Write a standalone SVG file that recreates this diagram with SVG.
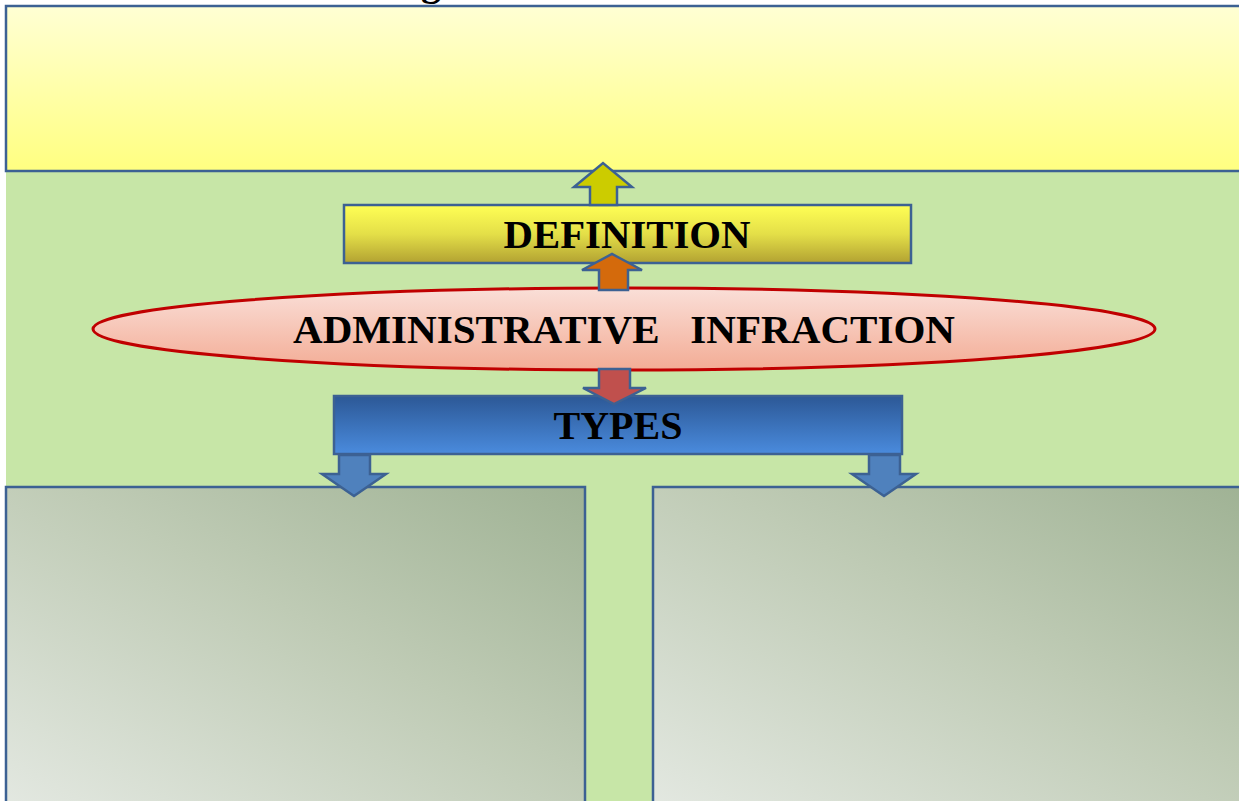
<svg xmlns="http://www.w3.org/2000/svg" width="1239" height="801" viewBox="0 0 1239 801">
  <style>
    .box { stroke: #3C6193; stroke-width: 2.5; }
    .arrow { stroke: #3C6193; stroke-width: 2.5; stroke-linejoin: miter; }
    .label { font-family: "Liberation Serif", "Times New Roman", serif; font-weight: bold; font-size: 40px; fill: #000; text-anchor: middle; }
  </style>
  <defs>
    <linearGradient id="gTop" x1="0" y1="0" x2="0" y2="1">
      <stop offset="0" stop-color="#FFFFD4"/>
      <stop offset="1" stop-color="#FFFF80"/>
    </linearGradient>
    <linearGradient id="gDef" x1="0" y1="0" x2="0" y2="1">
      <stop offset="0" stop-color="#FFFF55"/>
      <stop offset="0.5" stop-color="#E4DF48"/>
      <stop offset="1" stop-color="#B2A232"/>
    </linearGradient>
    <linearGradient id="gEll" x1="0" y1="0" x2="0" y2="1">
      <stop offset="0" stop-color="#FADFD8"/>
      <stop offset="1" stop-color="#F3AC95"/>
    </linearGradient>
    <linearGradient id="gTypes" x1="0" y1="0" x2="0" y2="1">
      <stop offset="0" stop-color="#2C5896"/>
      <stop offset="1" stop-color="#4A8BDD"/>
    </linearGradient>
    <linearGradient id="gPanel" x1="0" y1="1" x2="1" y2="0">
      <stop offset="0" stop-color="#E3E8E1"/>
      <stop offset="0.55" stop-color="#BFCBB5"/>
      <stop offset="1" stop-color="#9FB294"/>
    </linearGradient>
  </defs>

  <!-- page -->
  <rect x="0" y="0" width="1239" height="801" fill="#FFFFFF"/>
  <rect x="6" y="6" width="1240" height="800" fill="#C7E6A7"/>

  <!-- heading descender above the top band -->
  <text x="431" y="-5" class="label">g</text>

  <g id="top-band">
    <rect class="box" x="6" y="6" width="1240" height="165" fill="url(#gTop)"/>
  </g>

  <g id="definition">
    <rect class="box" x="344" y="205" width="567" height="58" fill="url(#gDef)"/>
    <text class="label" x="627" y="248" textLength="247" lengthAdjust="spacingAndGlyphs">DEFINITION</text>
  </g>

  <g id="infraction">
    <ellipse cx="624" cy="329" rx="531" ry="41" fill="url(#gEll)" stroke="#C00000" stroke-width="3"/>
    <text class="label" x="624" y="343" textLength="662" lengthAdjust="spacingAndGlyphs" xml:space="preserve">ADMINISTRATIVE   INFRACTION</text>
  </g>

  <g id="types">
    <rect class="box" x="334" y="396" width="568" height="58" fill="url(#gTypes)"/>
    <text class="label" x="618" y="439" textLength="129" lengthAdjust="spacingAndGlyphs">TYPES</text>
  </g>

  <g id="panel-left">
    <rect class="box" x="6" y="487" width="579" height="320" fill="url(#gPanel)"/>
  </g>

  <g id="panel-right">
    <rect class="box" x="653" y="487" width="600" height="320" fill="url(#gPanel)"/>
  </g>

  <g id="connectors">
    <!-- definition -> top band -->
    <path class="arrow" fill="#CCCC00" d="M590,205 V187 H574 L603,163 L632,187 H617 V205 Z"/>
    <!-- infraction -> definition -->
    <path class="arrow" fill="#D46A0C" d="M599,290 V270 H582 L612,254 L642,270 H628 V290 Z"/>
    <!-- infraction -> types -->
    <path class="arrow" fill="#C0504D" d="M599,369 V388 H583 L614,404 L646,388 H630 V369 Z"/>
    <!-- types -> left panel -->
    <path class="arrow" fill="#4F81BD" d="M339,455 V474 H322 L354,496 L386,474 H370 V455 Z"/>
    <!-- types -> right panel -->
    <path class="arrow" fill="#4F81BD" d="M869,455 V474 H852 L884,496 L916,474 H900 V455 Z"/>
  </g>
</svg>
